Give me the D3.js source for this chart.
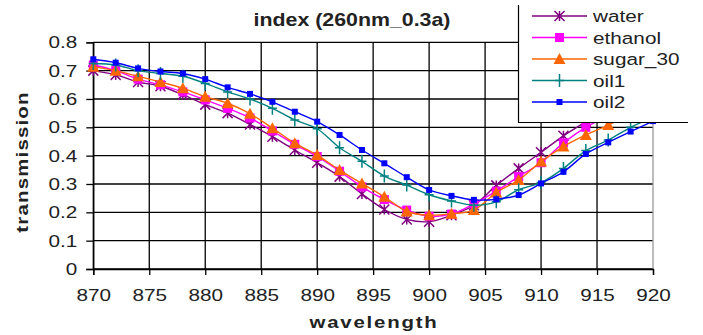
<!DOCTYPE html>
<html><head><meta charset="utf-8">
<script src="https://cdn.jsdelivr.net/npm/d3@7"></script>
<style>body{margin:0;background:#fff}svg{display:block}text{font-family:"Liberation Sans",Arial,sans-serif}</style>
</head><body><svg id="c" width="703" height="335"></svg>
<script>
const wavelengths = [870,872,874,876,878,880,882,884,886,888,890,892,894,896,898,900,902,904,906,908,910,912,914,916,918,920];
const water   = [0.700,0.685,0.660,0.645,0.615,0.580,0.550,0.510,0.467,0.420,0.375,0.326,0.265,0.210,0.175,0.167,0.190,0.225,0.295,0.355,0.412,0.470,0.520,0.570,0.610,0.650];
const ethanol = [0.720,0.700,0.670,0.650,0.625,0.597,0.567,0.533,0.487,0.440,0.397,0.345,0.290,0.245,0.208,0.186,0.194,0.230,0.275,0.326,0.375,0.445,0.500,0.540,0.580,0.620];
const sugar30 = [0.714,0.700,0.680,0.660,0.638,0.608,0.585,0.548,0.497,0.444,0.402,0.349,0.302,0.255,0.203,0.190,0.195,0.208,0.270,0.314,0.379,0.432,0.473,0.508,0.550,0.590];
const oil1    = [0.725,0.720,0.700,0.690,0.680,0.655,0.625,0.600,0.567,0.526,0.495,0.428,0.380,0.328,0.296,0.262,0.240,0.225,0.237,0.280,0.305,0.355,0.418,0.455,0.500,0.535];
const oil2    = [0.740,0.728,0.708,0.697,0.690,0.670,0.641,0.618,0.590,0.555,0.520,0.473,0.420,0.373,0.324,0.279,0.258,0.244,0.246,0.261,0.302,0.343,0.406,0.447,0.485,0.522];
const seriesNames = ["water","ethanol","sugar_30","oil1","oil2"];
const xTicks = [870,875,880,885,890,895,900,905,910,915,920];
const yTicks = [0,0.1,0.2,0.3,0.4,0.5,0.6,0.7,0.8];
const titleText = "index (260nm_0.3a)";
const xLabel = "wavelength", yLabel = "transmission";

const colors = ["#800080","#FF00FF","#FF6600","#008080","#0000FF"];
const markers = ["star","square","triangle","plus","smallsquare"];
const seriesData = [water, ethanol, sugar30, oil1, oil2];

const svg = d3.select("#c");
const x = d3.scaleLinear().domain([870,920]).range([93.3,653]);
const y = d3.scaleLinear().domain([0,0.8]).range([269,42.3]);
const SX = 1.22;

// grid
const g = svg.append("g");
g.selectAll(".hg").data(yTicks).join("line")
  .attr("x1",x(870)).attr("x2",x(920)).attr("y1",d=>y(d)).attr("y2",d=>y(d))
  .attr("stroke","#000").attr("stroke-width",1.3);
g.selectAll(".vg").data(xTicks.slice(0,-1)).join("line")
  .attr("x1",d=>x(d)).attr("x2",d=>x(d)).attr("y1",y(0.8)).attr("y2",y(0))
  .attr("stroke","#000").attr("stroke-width",1.3);
g.append("line").attr("x1",x(920)).attr("x2",x(920)).attr("y1",y(0.8)).attr("y2",y(0))
  .attr("stroke","#999").attr("stroke-width",1.3);

// axes
const xAxis = d3.axisBottom(x).tickValues(xTicks).tickSize(6).tickPadding(14).tickFormat(d3.format("d"));
const ax = svg.append("g").attr("transform",`translate(0,${y(0)})`).call(xAxis);
ax.select(".domain").attr("stroke","#000").attr("stroke-width",1.3);
ax.selectAll(".tick line").attr("stroke","#000").attr("stroke-width",1.3);
ax.selectAll("text").attr("font-size",17).attr("fill","#222").attr("font-family","Liberation Sans, Arial")
  .attr("transform",`scale(${SX},1)`);
const yAxis = d3.axisLeft(y).tickValues(yTicks).tickSize(7).tickPadding(9).tickFormat(d=>d===0?"0":d3.format(".1f")(d));
const ay = svg.append("g").attr("transform",`translate(${x(870)},0)`).call(yAxis);
ay.select(".domain").attr("stroke","#000").attr("stroke-width",1.3);
ay.selectAll(".tick line").attr("stroke","#000").attr("stroke-width",1.3);
ay.selectAll("text").attr("font-size",17).attr("fill","#222").attr("font-family","Liberation Sans, Arial")
  .attr("x",-16/SX).attr("transform",`scale(${SX},1)`);

// markers
function drawMarker(sel, type, color){
  if(type==="star"){
    const s=5;
    sel.append("path").attr("d",`M0,${-s}V${s}M${-s},${-s}L${s},${s}M${s},${-s}L${-s},${s}`)
      .attr("stroke",color).attr("stroke-width",1.5).attr("fill","none");
  } else if(type==="square"){
    sel.append("rect").attr("x",-4.5).attr("y",-4.5).attr("width",9).attr("height",9).attr("fill",color);
  } else if(type==="triangle"){
    sel.append("path").attr("d","M0,-6L6,5L-6,5Z").attr("fill",color);
  } else if(type==="plus"){
    sel.append("path").attr("d","M0,-6.5V6.5M-4.5,0H4.5").attr("stroke",color).attr("stroke-width",1.5);
  } else {
    sel.append("rect").attr("x",-3).attr("y",-3).attr("width",6).attr("height",6).attr("fill",color);
  }
}

const line = d3.line().x((d,i)=>x(wavelengths[i])).y(d=>y(d)).curve(d3.curveCatmullRom.alpha(0.5));
seriesData.forEach((vals,k)=>{
  const sg = svg.append("g");
  sg.append("path").attr("d",line(vals)).attr("fill","none").attr("stroke",colors[k]).attr("stroke-width",1.4);
  vals.forEach((v,i)=>{
    const m = sg.append("g").attr("transform",`translate(${x(wavelengths[i])},${y(v)})`);
    drawMarker(m, markers[k], colors[k]);
  });
});

// legend
const lg = svg.append("g");
lg.append("rect").attr("x",518.5).attr("y",-5).attr("width",190).attr("height",127.5).attr("fill","#fff");
lg.append("path").attr("d","M518.5,5V122.5H688").attr("fill","none").attr("stroke","#000").attr("stroke-width",1.2);
seriesNames.forEach((n,k)=>{
  const yy = 16 + k*21.5;
  lg.append("line").attr("x1",532).attr("x2",587).attr("y1",yy).attr("y2",yy).attr("stroke",colors[k]).attr("stroke-width",1.3);
  const m = lg.append("g").attr("transform",`translate(559.5,${yy})`);
  drawMarker(m, markers[k], colors[k]);
  lg.append("text").attr("transform",`translate(593,${yy+6}) scale(${SX},1)`).attr("font-size",17).attr("fill","#222").text(n);
});

// titles
svg.append("text").attr("transform","translate(352,26) scale(1.22,1)").attr("text-anchor","middle")
  .attr("font-size",17.5).attr("font-weight","bold").attr("fill","#222").text(titleText);
svg.append("text").attr("transform","translate(374,328) scale(1.2,1)").attr("text-anchor","middle")
  .attr("font-size",17).attr("font-weight","bold").attr("letter-spacing",1.5).attr("fill","#222").text(xLabel);
svg.append("text").attr("transform","translate(28,162) rotate(-90) scale(1.2,1)").attr("text-anchor","middle")
  .attr("font-size",17).attr("font-weight","bold").attr("letter-spacing",1).attr("fill","#222").text(yLabel);
</script></body></html>
